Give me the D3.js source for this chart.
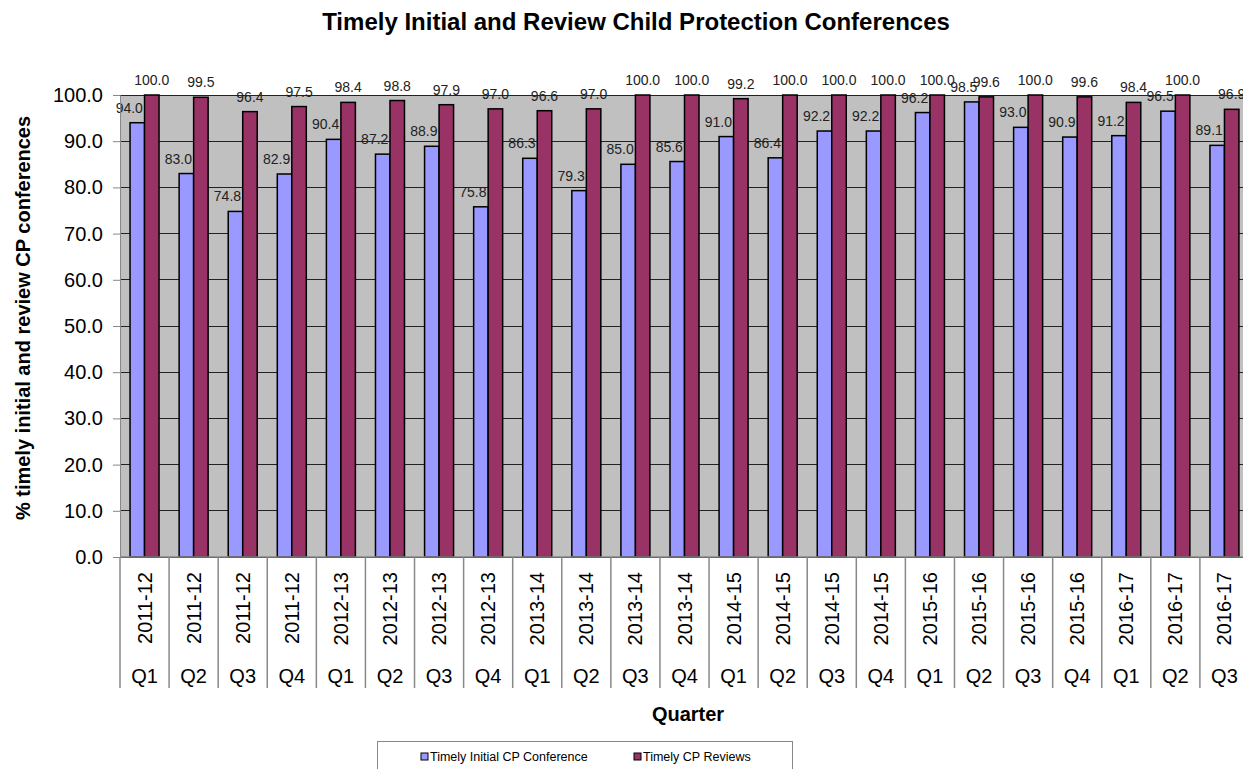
<!DOCTYPE html>
<html>
<head>
<meta charset="utf-8">
<script src="https://cdn.jsdelivr.net/npm/d3@7"></script>
<style>
body { margin: 0; background: #fff; }
svg { font-family: "Liberation Sans", Arial, sans-serif; display: block; }
</style>
</head>
<body>
<div id="vis"></div>
<script>
// quarters and financial years
var years = ["2011-12", "2011-12", "2011-12", "2011-12", "2012-13", "2012-13", "2012-13", "2012-13",
    "2013-14", "2013-14", "2013-14", "2013-14", "2014-15", "2014-15", "2014-15", "2014-15",
    "2015-16", "2015-16", "2015-16", "2015-16", "2016-17", "2016-17", "2016-17"];
var quarters = ["Q1", "Q2", "Q3", "Q4", "Q1", "Q2", "Q3", "Q4", "Q1", "Q2", "Q3", "Q4",
    "Q1", "Q2", "Q3", "Q4", "Q1", "Q2", "Q3", "Q4", "Q1", "Q2", "Q3"];
var initialConf = [94.0, 83.0, 74.8, 82.9, 90.4, 87.2, 88.9, 75.8, 86.3, 79.3, 85.0, 85.6,
    91.0, 86.4, 92.2, 92.2, 96.2, 98.5, 93.0, 90.9, 91.2, 96.5, 89.1];
var reviews = [100.0, 99.5, 96.4, 97.5, 98.4, 98.8, 97.9, 97.0, 96.6, 97.0, 100.0, 100.0,
    99.2, 100.0, 100.0, 100.0, 100.0, 99.6, 100.0, 99.6, 98.4, 100.0, 96.9];
var seriesNames = ["Timely Initial CP Conference", "Timely CP Reviews"];
var seriesColors = ["#9999ff", "#993366"];
var yTicks = [0, 10, 20, 30, 40, 50, 60, 70, 80, 90, 100];

var width = 1243, height = 769;
var margin = { top: 95, left: 120, bottom: 212 };
var plotW = 1129;
var plotH = height - margin.top - margin.bottom;

var svg = d3.select("#vis").append("svg").attr("width", width).attr("height", height);

//title
svg.append("text").attr("x", 636).attr("y", 30).attr("text-anchor", "middle")
    .attr("font-size", 24).attr("font-weight", "bold").text("Timely Initial and Review Child Protection Conferences");

var idx = d3.range(years.length);
var x = d3.scaleBand().domain(idx).range([margin.left, margin.left + plotW]).padding(0);
var x1 = d3.scaleBand().domain([0, 1]).range([x.bandwidth() / 2 - 14.5, x.bandwidth() / 2 + 14.5]).padding(0);
var y = d3.scaleLinear().domain([0, 100]).range([margin.top + plotH, margin.top]);

var g = svg.append("g");

//plot background
g.append("rect").attr("x", margin.left).attr("y", margin.top).attr("width", plotW).attr("height", plotH)
    .attr("fill", "#c0c0c0");

//gridlines
g.selectAll(".grid").data(yTicks).enter().append("line")
    .attr("x1", margin.left).attr("x2", margin.left + plotW)
    .attr("y1", d => y(d)).attr("y2", d => y(d))
    .attr("stroke", "#222").attr("stroke-width", 1).attr("shape-rendering", "crispEdges");

//y axis
var yAxis = d3.axisLeft(y).tickValues(yTicks).tickFormat(d3.format(".1f")).tickSize(7).tickPadding(10);
var yg = svg.append("g").attr("transform", "translate(" + margin.left + ",0)").call(yAxis);
yg.select(".domain").attr("stroke", "#888");
yg.selectAll(".tick line").attr("stroke", "#888");
yg.selectAll("text").attr("font-size", 20).attr("fill", "#000").attr("font-family", "Liberation Sans, Arial, sans-serif");

//bars
var series = [initialConf, reviews];
series.forEach(function (vals, s) {
    g.selectAll(".bar" + s).data(vals).enter().append("rect")
        .attr("x", (d, i) => x(i) + x1(s))
        .attr("y", d => y(d))
        .attr("width", x1.bandwidth())
        .attr("height", d => y(0) - y(d))
        .attr("fill", seriesColors[s])
        .attr("stroke", "#000").attr("stroke-width", 1.5);
});

//value labels
series.forEach(function (vals, s) {
    g.selectAll(".lab" + s).data(vals).enter().append("text")
        .attr("x", (d, i) => x(i) + x1(s) + x1.bandwidth() / 2 + (s == 0 ? -8 : 0))
        .attr("y", d => y(d) - 10)
        .attr("text-anchor", "middle")
        .attr("font-size", 14).attr("fill", "#222")
        .text(d => d3.format(".1f")(d));
});

//x axis line and separators
var base = y(0);
svg.append("line").attr("x1", margin.left).attr("x2", margin.left + plotW).attr("y1", base).attr("y2", base)
    .attr("stroke", "#888").attr("stroke-width", 1.5);
svg.selectAll(".sep").data(d3.range(years.length + 1)).enter().append("line")
    .attr("x1", i => margin.left + i * x.bandwidth()).attr("x2", i => margin.left + i * x.bandwidth())
    .attr("y1", base).attr("y2", base + 131)
    .attr("stroke", "#888").attr("stroke-width", 1.5);

//x labels
svg.selectAll(".yr").data(years).enter().append("text")
    .attr("transform", (d, i) => "translate(" + (x(i) + x.bandwidth() / 2 + 7) + "," + (base + 15) + ") rotate(-90)")
    .attr("text-anchor", "end").attr("font-size", 20).text(d => d);
svg.selectAll(".q").data(quarters).enter().append("text")
    .attr("x", (d, i) => x(i) + x.bandwidth() / 2).attr("y", base + 126)
    .attr("text-anchor", "middle").attr("font-size", 20).text(d => d);

//axis titles
svg.append("text").attr("x", 688).attr("y", 721).attr("text-anchor", "middle")
    .attr("font-size", 20).attr("font-weight", "bold").text("Quarter");
svg.append("text").attr("transform", "translate(30,318) rotate(-90)")
    .attr("text-anchor", "middle").attr("font-size", 20).attr("font-weight", "bold")
    .text("% timely initial and review CP conferences");

//legend
var lg = svg.append("g");
lg.append("rect").attr("x", 377.5).attr("y", 741.5).attr("width", 415).attr("height", 40)
    .attr("fill", "#fff").attr("stroke", "#888");
var legX = [421, 634];
seriesNames.forEach(function (n, s) {
    lg.append("rect").attr("x", legX[s]).attr("y", 753).attr("width", 7).attr("height", 7)
        .attr("fill", seriesColors[s]).attr("stroke", "#000");
    lg.append("text").attr("x", legX[s] + 9).attr("y", 761).attr("font-size", 12.5).text(n);
});
</script>
</body>
</html>
